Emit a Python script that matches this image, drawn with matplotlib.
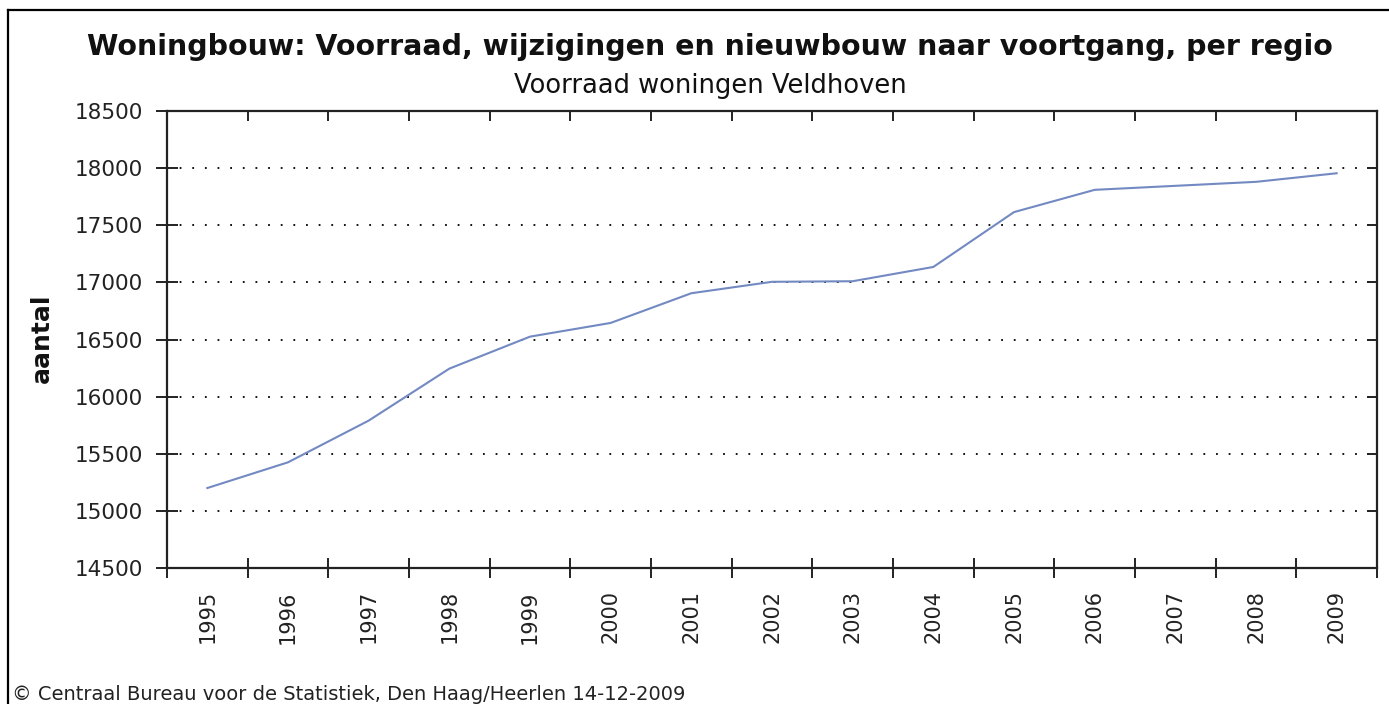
import matplotlib
matplotlib.use("Agg")
import matplotlib.pyplot as plt
from matplotlib.lines import Line2D

jaren = ["1995", "1996", "1997", "1998", "1999", "2000", "2001", "2002",
         "2003", "2004", "2005", "2006", "2007", "2008", "2009"]
voorraad = [15200, 15425, 15790, 16245, 16525, 16645, 16905, 17005,
            17010, 17135, 17615, 17810, 17845, 17880, 17955]
y_ticks = [14500, 15000, 15500, 16000, 16500, 17000, 17500, 18000, 18500]

W, H = 1389, 704
fig = plt.figure(figsize=(W / 100, H / 100), dpi=100)
fig.patch.set_facecolor("white")

ax = fig.add_axes([167 / W, 1 - 568 / H, (1377 - 167) / W, (568 - 111) / H])

x = list(range(len(jaren)))
ax.plot(x, voorraad, color="#7389c2", linewidth=1.5)

ax.set_xlim(-0.5, len(jaren) - 0.5)
ax.set_ylim(y_ticks[0], y_ticks[-1])

# grid (dotted, only inner lines)
for v in y_ticks[1:-1]:
    ax.axhline(v, color="black", linewidth=1.3, linestyle=(0, (1, 6)), zorder=0)

for s in ax.spines.values():
    s.set_linewidth(1.6)
    s.set_color("#222222")

# category boundaries as major ticks, labels on minor ticks
ax.set_xticks([i - 0.5 for i in range(len(jaren) + 1)])
ax.set_xticklabels([])
ax.set_xticks(x, minor=True)
ax.set_xticklabels(jaren, minor=True, rotation=90, fontsize=15, color="#222222")
ax.tick_params(axis="x", which="major", direction="inout", length=14, width=1.4, color="#222222")
ax.tick_params(axis="x", which="minor", length=0, pad=16)

ax.set_yticks(y_ticks)
ax.set_yticklabels([str(v) for v in y_ticks], fontsize=15.5, color="#222222")
ax.tick_params(axis="y", direction="inout", length=16, width=1.4, color="#222222", pad=9)

top = ax.secondary_xaxis("top")
top.set_xticks([i - 0.5 for i in range(len(jaren) + 1)])
top.set_xticklabels([])
top.tick_params(direction="in", length=7, width=1.4, color="#222222")
top.spines["top"].set_visible(False)

right = ax.secondary_yaxis("right")
right.set_yticks(y_ticks)
right.set_yticklabels([])
right.tick_params(direction="in", length=7, width=1.4, color="#222222")
right.spines["right"].set_visible(False)

fig.text(710 / W, 1 - 47 / H, "Woningbouw: Voorraad, wijzigingen en nieuwbouw naar voortgang, per regio",
         ha="center", va="center", fontsize=20.5, fontweight="bold", color="#111111")
fig.text(710 / W, 1 - 86 / H, "Voorraad woningen Veldhoven",
         ha="center", va="center", fontsize=18.5, color="#111111")
fig.text(42 / W, 1 - 338 / H, "aantal", rotation=90, ha="center", va="center",
         fontsize=18, fontweight="bold", color="#111111")
fig.text(12 / W, 1 - 694 / H, "\u00a9 Centraal Bureau voor de Statistiek, Den Haag/Heerlen 14-12-2009",
         ha="left", va="center", fontsize=14, color="#222222")

# outer frame (top and left)
fig.add_artist(Line2D([8 / W, 1], [1 - 10 / H, 1 - 10 / H], transform=fig.transFigure,
                      color="black", linewidth=1.6))
fig.add_artist(Line2D([8 / W, 8 / W], [1 - 10 / H, 0], transform=fig.transFigure,
                      color="black", linewidth=1.6))

fig.savefig("out.png", dpi=100)
